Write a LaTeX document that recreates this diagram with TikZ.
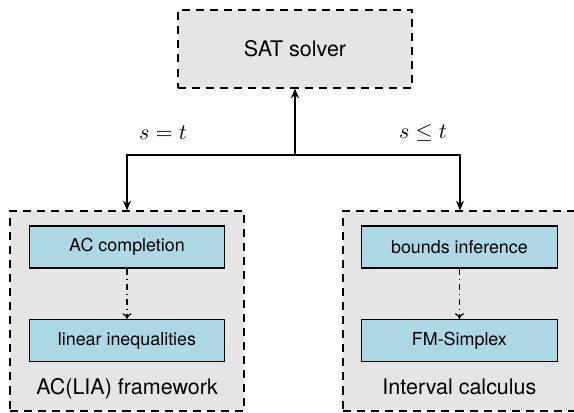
\documentclass[tikz,border=0pt]{standalone}
\usepackage[no-math]{fontspec}
\setmainfont{TeX Gyre Heros}
\usetikzlibrary{arrows.meta}
\definecolor{lightblue}{RGB}{173,216,230}
\tikzset{
  groupbox/.style={draw, semithick, dash pattern=on 4pt off 3pt, fill=gray!20,
    minimum width=4.095cm, font=\fontsize{10.7}{13}\selectfont},
  stagebox/.style={draw, semithick, fill=lightblue,
    minimum width=3.42cm, minimum height=0.735cm, font=\fontsize{8.9}{11}\selectfont},
  mainarrow/.style={thick, -{Stealth[length=1.7mm, width=1.4mm]}},
  steparrow/.style={semithick, dash dot, -{To[length=1mm, width=1.6mm]}},
  biglabel/.style={font=\fontsize{10.7}{13}\selectfont}
}
\begin{document}
\begin{tikzpicture}
\useasboundingbox (0,0) rectangle (10.045,-7.2275);
\clip (0,0) rectangle (10.045,-7.2275);
% SAT 求解器
\node[groupbox, minimum height=1.365cm] (sat) at (5.1625,-0.8575) {SAT solver};
% 左侧框架
\node[groupbox, minimum height=3.5cm] (aclia) at (2.2225,-5.4425) {};
\node[stagebox] (accomp) at (2.2225,-4.3225) {AC completion};
\node[stagebox] (lineq) at (2.2225,-5.95875) {linear inequalities};
\node[biglabel] (aclialbl) at (2.2225,-6.8075) {AC(LIA) framework};
% 右侧框架
\node[groupbox, minimum height=3.5cm] (interval) at (8.05,-5.4425) {};
\node[stagebox] (bounds) at (8.04,-4.3225) {bounds inference};
\node[stagebox] (fmsimplex) at (8.04,-5.95875) {FM-Simplex};
\node[biglabel] (intervallbl) at (8.04,-6.7775) {Interval calculus};
% 连接
\coordinate (fork) at (5.1625,-2.7125);
\draw[mainarrow] (fork) -- (sat);
\draw[mainarrow] (fork) -| (aclia);
\draw[mainarrow] (fork) -| (interval);
\node[biglabel] (eqlbl) at (2.8525,-2.3275) {$s=t$};
\node[biglabel] (leqlbl) at (7.4025,-2.3275) {$s\leq t$};
\draw[steparrow] (accomp) -- (lineq);
\draw[steparrow] (bounds) -- (fmsimplex);
\end{tikzpicture}
\end{document}
